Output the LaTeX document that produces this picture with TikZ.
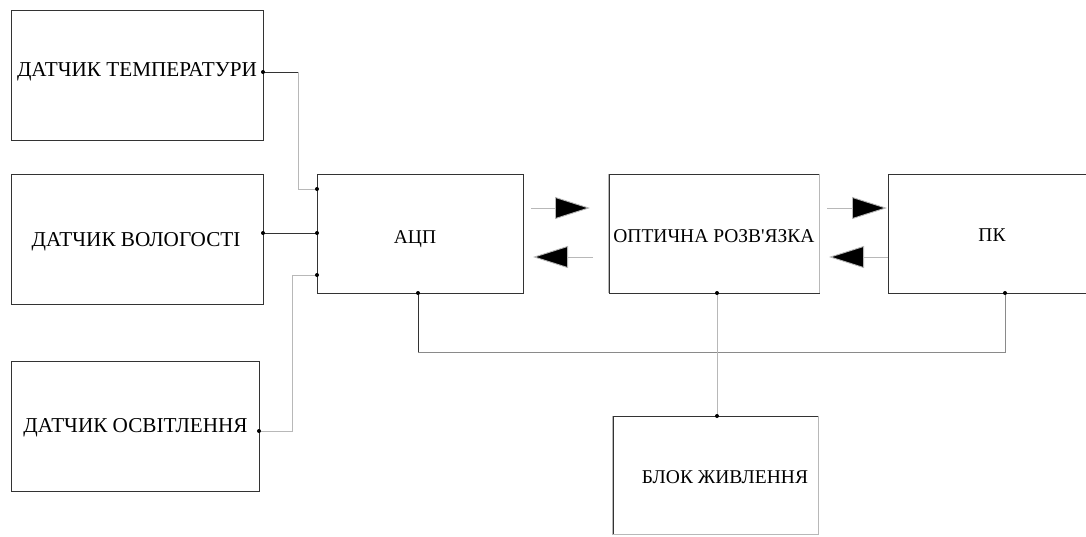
\documentclass[tikz,border=0pt]{standalone}
\usepackage{fontspec}
\newfontfamily\lbf{Liberation Serif}
\usetikzlibrary{arrows.meta}
\definecolor{dk}{HTML}{333333}
\definecolor{md}{HTML}{8A8A8A}
\definecolor{lt}{HTML}{B8B8B8}
\tikzset{
  blockbox/.style={draw=dk, line width=0.9pt, rectangle, inner sep=0pt},
  wire/.style={draw=dk, line width=0.9pt},
  wirelt/.style={draw=lt, line width=0.9pt},
  wiremd/.style={draw=md, line width=0.9pt},
  sig/.style={draw=lt, line width=0.9pt, -{Triangle[length=35pt,width=22pt,fill=black]}},
  jdot/.style={circle, fill=black, inner sep=0pt, minimum size=4pt},
  lbl/.style={font=\lbf\fontsize{19.5}{22}\selectfont, inner sep=0pt},
  lblbig/.style={font=\lbf\fontsize{21.2}{24}\selectfont, inner sep=0pt}
}
\begin{document}
\begin{tikzpicture}[x=1pt,y=-1pt]
\useasboundingbox (0,0) rectangle (1086,536);
% blocks
\node[blockbox, minimum width=252pt, minimum height=130pt] (temp) at (137,75) {};
\node[lblbig] (temptxt) at (137,72) {ДАТЧИК ТЕМПЕРАТУРИ};
\node[blockbox, minimum width=252pt, minimum height=130pt] (hum) at (137,239) {};
\node[lblbig] (humtxt) at (136,242) {ДАТЧИК ВОЛОГОСТІ};
\node[blockbox, minimum width=248pt, minimum height=130pt] (light) at (135,426) {};
\node[lblbig] (lighttxt) at (135.5,428) {ДАТЧИК ОСВІТЛЕННЯ};
\node[blockbox, minimum width=206pt, minimum height=119pt] (adc) at (420,233.5) {};
\node[lbl] (adctxt) at (415,239) {АЦП};
\node[blockbox, minimum width=210pt, minimum height=119pt] (opt) at (714,233.5) {};
\node[lbl] (opttxt) at (714,236) {ОПТИЧНА РОЗВ'ЯЗКА};
\node[blockbox, minimum width=208pt, minimum height=119pt] (pc) at (992,233.5) {};
\node[lbl] (pctxt) at (992,235) {ПК};
\node[blockbox, minimum width=205pt, minimum height=118pt] (pow) at (715.5,475) {};
\node[lbl] (powtxt) at (725,477) {БЛОК ЖИВЛЕННЯ};
% lighter sides
\draw[wirelt] (opt.north west) -- (opt.south west);
\draw[wirelt] (opt.north east) -- (opt.south east);
\draw[wirelt] (pow.north west) -- (pow.south west) -- (pow.south east) -- (pow.north east);
% junction coordinates
\coordinate (t1) at (263,72);
\coordinate (h1) at (263,233);
\coordinate (l1) at (259,431);
\coordinate (a1) at (317,189);
\coordinate (a2) at (317,233);
\coordinate (a3) at (317,275);
\coordinate (ab) at (418,293);
\coordinate (ob) at (717,293);
\coordinate (pb) at (1005,293);
\coordinate (pt) at (717,416);
\coordinate (tk) at (298,72);
\coordinate (lk) at (292,431);
\coordinate (ak) at (418,352);
\coordinate (pk) at (1005,352);
% wires
\draw[wire] (t1) -- (tk);
\draw[wirelt] (tk) |- (a1);
\draw[wire] (h1) -- (a2);
\draw[wirelt] (l1) -- (lk) |- (a3);
\draw[wire] (ab) -- (ak);
\draw[wiremd] (ak) -- (pk) -- (pb);
\draw[wirelt] (ob) -- (pt);
% signal arrows
\coordinate (s1a) at (531,208); \coordinate (s1b) at (590,208);
\coordinate (s2a) at (593,257); \coordinate (s2b) at (533,257);
\coordinate (s3a) at (827,208); \coordinate (s3b) at (887,208);
\coordinate (s4a) at (888,257); \coordinate (s4b) at (829,257);
\draw[sig] (s1a) -- (s1b);
\draw[sig] (s2a) -- (s2b);
\draw[sig] (s3a) -- (s3b);
\draw[sig] (s4a) -- (s4b);
% dots
\foreach \p in {t1,h1,l1,a1,a2,a3,ab,ob,pb,pt} \node[jdot] at (\p) {};
\end{tikzpicture}
\end{document}
